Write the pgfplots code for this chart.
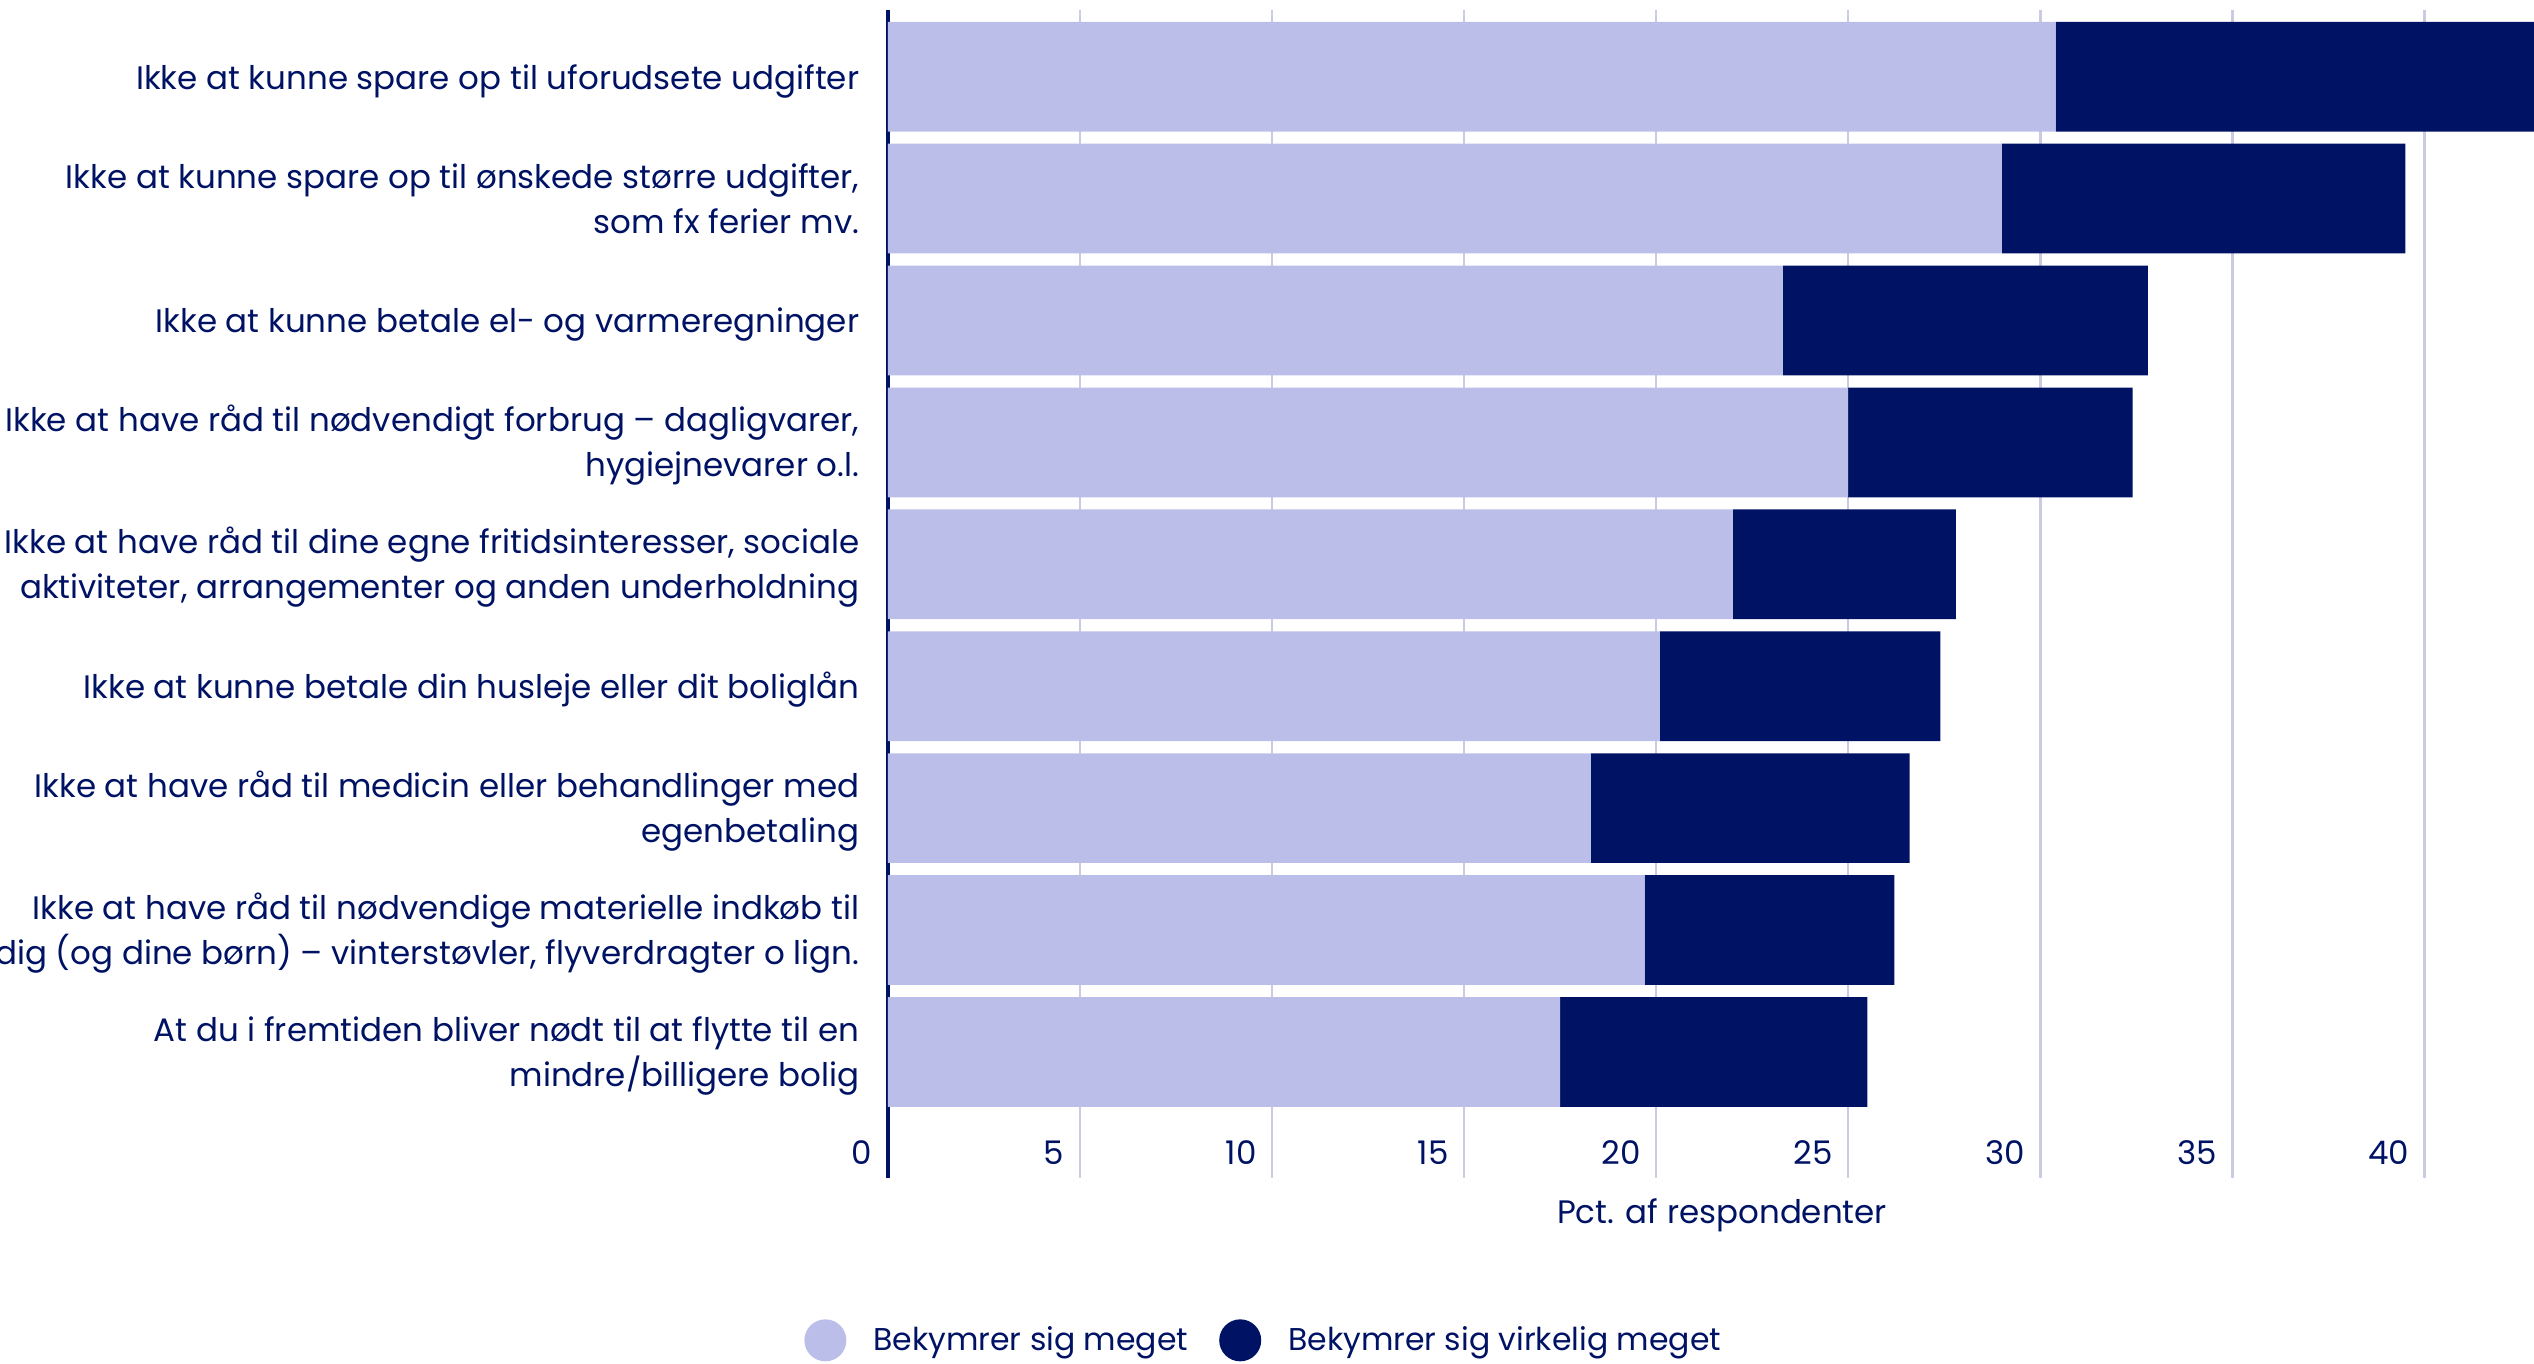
\documentclass[border=0pt]{standalone}
\usepackage{pgfplots}
\pgfplotsset{compat=1.18}
\usepackage{fontspec}
\setmainfont{Poppins}
\usetikzlibrary{calc}

\definecolor{navy}{RGB}{0,18,100}
\definecolor{lav}{RGB}{188,190,234}
\definecolor{gridc}{RGB}{201,204,224}

\newcommand{\lblfont}{\fontsize{13}{18}\selectfont}
% struts so the labels sit centred on their bars like in the original
\newcommand{\one}{\rule{0pt}{13.5pt}}
\newcommand{\two}{\rule{0pt}{12.8pt}}

\begin{document}
\begin{tikzpicture}
\begin{axis}[
    xbar stacked,
    bar width=0.9,
    scale only axis,
    width=658.5pt, height=467.2pt,
    xmin=0, xmax=42.85,
    ymin=-1.034, ymax=8.547,
    clip mode=individual,
    ytick={0,...,8},
    yticklabels={
        {\two At du i fremtiden bliver nødt til at flytte til en\\mindre/billigere bolig},
        {\two Ikke at have råd til nødvendige materielle indkøb til\\dig (og dine børn) – vinterstøvler, flyverdragter o lign.},
        {\two Ikke at have råd til medicin eller behandlinger med\\egenbetaling},
        {\one Ikke at kunne betale din husleje eller dit boliglån},
        {\two Ikke at have råd til dine egne fritidsinteresser, sociale\\aktiviteter, arrangementer og anden underholdning},
        {\two Ikke at have råd til nødvendigt forbrug – dagligvarer,\\hygiejnevarer o.l.},
        {\one Ikke at kunne betale el- og varmeregninger},
        {Ikke at kunne spare op til ønskede større udgifter,\\som fx ferier mv.},
        {\one Ikke at kunne spare op til uforudsete udgifter}
    },
    xtick={0,5,...,40},
    xmajorgrids,
    grid style={gridc, line width=1pt},
    major tick length=0pt,
    axis line style={draw=none},
    /pgf/number format/assume math mode=true,
    tick label style={font=\lblfont, text=navy},
    yticklabel style={align=right, inner sep=0pt, xshift=-11.2pt},
    xticklabel style={anchor=east, inner sep=0pt, xshift=-6pt, yshift=10pt},
    xlabel={Pct. af respondenter},
    xlabel style={at={(axis description cs:0.5068,0)}, anchor=north,
        inner sep=0pt, yshift=-8pt, font=\lblfont, text=navy},
    legend columns=2,
    legend style={at={(0.2278,-0.139)}, anchor=center, draw=none, fill=none,
        font=\fontsize{12.6}{18}\selectfont, text=navy, inner sep=0pt, nodes={inner sep=0pt},
        /tikz/every odd column/.append style={column sep=10.8pt},
        /tikz/every even column/.append style={column sep=12.4pt}},
    legend cell align=left,
    every axis plot post/.append style={
        legend image code/.code={\fill[##1] (8.4pt,0pt) circle (8.4pt);}},
]
% Bekymrer sig meget
\addplot[fill=lav, draw=none] coordinates {
    (17.5,0) (19.7,1) (18.3,2) (20.1,3) (22.0,4) (25.0,5) (23.3,6) (29.0,7) (30.4,8)
};
\addlegendentry{Bekymrer sig meget}
% Bekymrer sig virkelig meget
\addplot[fill=navy, draw=none] coordinates {
    (8.0,0) (6.5,1) (8.3,2) (7.3,3) (5.8,4) (7.4,5) (9.5,6) (10.5,7) (12.6,8)
};
\addlegendentry{Bekymrer sig virkelig meget}

\draw[navy, line width=1.6pt] (rel axis cs:0,0) -- (rel axis cs:0,1);
\coordinate (bl) at (rel axis cs:0,0);
\coordinate (tr) at (rel axis cs:1,1);
\end{axis}
\pgfresetboundingbox
\path[use as bounding box] ($(bl)+(-355.12pt,-74.4pt)$) rectangle ($(tr)+(0pt,4pt)$);
\end{tikzpicture}
\end{document}
